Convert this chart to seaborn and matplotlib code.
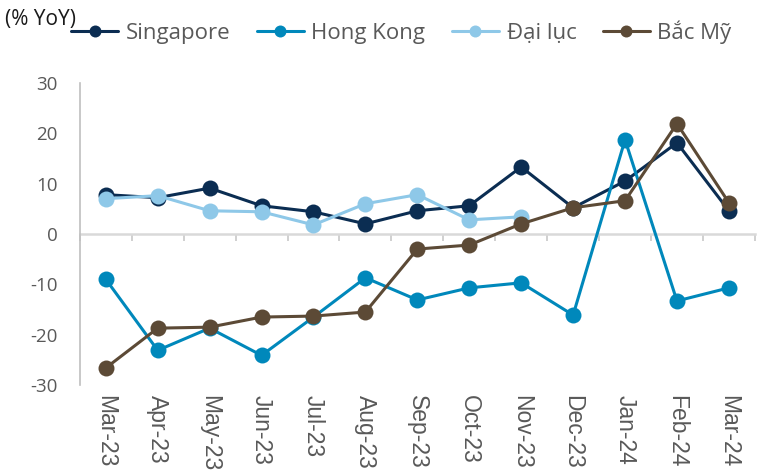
import matplotlib
matplotlib.use('Agg')
import matplotlib.pyplot as plt
import seaborn as sns
import pandas as pd
import numpy as np

months = ['Mar-23', 'Apr-23', 'May-23', 'Jun-23', 'Jul-23', 'Aug-23', 'Sep-23',
          'Oct-23', 'Nov-23', 'Dec-23', 'Jan-24', 'Feb-24', 'Mar-24']
singapore = [7.8, 7.2, 9.1, 5.6, 4.4, 2.0, 4.6, 5.6, 13.3, 5.2, 10.5, 18.1, 4.6]
hong_kong = [-9.0, -23.1, -18.7, -24.1, -16.5, -8.7, -13.1, -10.7, -9.7, -16.1, 18.7, -13.3, -10.7]
dai_luc = [7.0, 7.6, 4.6, 4.4, 1.8, 6.0, 7.8, 2.8, 3.4, np.nan, np.nan, np.nan, np.nan]
bac_my = [-26.6, -18.7, -18.5, -16.5, -16.3, -15.5, -3.0, -2.2, 2.0, 5.2, 6.6, 21.9, 6.2]

series = {'Singapore': singapore, 'Hong Kong': hong_kong, 'Đại lục': dai_luc, 'Bắc Mỹ': bac_my}
COLORS = {'Singapore': '#0B2D52', 'Hong Kong': '#0088BB', 'Đại lục': '#8EC8E8', 'Bắc Mỹ': '#5C4A36'}

rows = []
for name, vals in series.items():
    for i, (m, v) in enumerate(zip(months, vals)):
        rows.append({'month': m, 'xpos': i, 'value': v, 'region': name})
df = pd.DataFrame(rows).dropna()

sns.set_style('white')
plt.rcParams['font.family'] = ['Open Sans', 'DejaVu Sans']
plt.rcParams['axes.unicode_minus'] = False

fig = plt.figure(figsize=(7.75, 4.76), dpi=100)
ax = fig.add_axes([0.103, 0.191, 0.871, 0.635])

# one call per series so the draw order (last on top) matches the original
for name in series:
    sns.lineplot(data=df[df['region'] == name], x='xpos', y='value', ax=ax, color=COLORS[name],
                 linewidth=2.2, marker='o', markersize=11.5, markeredgewidth=0, label=name, sort=False)

ax.set_xlim(-0.5, len(months) - 0.5)
ax.set_ylim(-30, 30)
ax.set_yticks([-30, -20, -10, 0, 10, 20, 30])
ax.set_xticks(range(len(months)))
ax.set_xticklabels(months, rotation=270, color='#595959', fontsize=16.5, family='Liberation Sans')
ax.tick_params(axis='x', length=0, pad=7)
ax.tick_params(axis='y', length=0, pad=16, labelcolor='#595959', labelsize=13.5)
ax.set_xlabel('')
ax.set_ylabel('')

for s in ['top', 'right', 'bottom']:
    ax.spines[s].set_visible(False)
ax.spines['left'].set_color('#BFBFBF')
ax.spines['left'].set_linewidth(1.2)

# zero line with category boundary ticks
sec = ax.secondary_xaxis(0.5)
sec.set_xticks(np.arange(-0.5, len(months), 1.0))
sec.set_xticklabels([])
sec.tick_params(axis='x', length=5, width=1.4, color='#D0D0D0', direction='in',
                labeltop=False, labelbottom=False)
for sp in sec.spines.values():
    sp.set_color('#D9D9D9')
    sp.set_linewidth(1.8)

leg = ax.legend(loc='center', bbox_to_anchor=(0.518, 0.933), bbox_transform=fig.transFigure,
                ncol=4, frameon=False, fontsize=16, handlelength=2.1, columnspacing=1.2,
                handletextpad=0.35, markerscale=0.75, borderpad=0)
for t in leg.get_texts():
    t.set_color('#595959')

fig.text(0.006, 0.958, '(% YoY)', fontsize=15, color='#1a1a1a', va='center', ha='left')

fig.savefig('out.png', dpi=100)
